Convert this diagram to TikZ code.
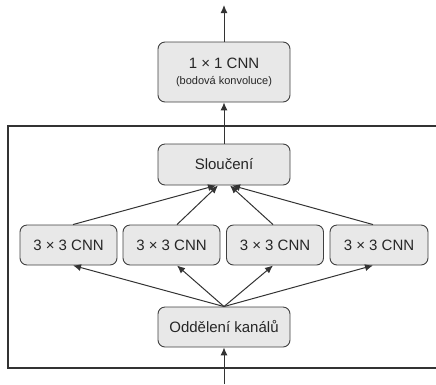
\documentclass[tikz,border=0pt]{standalone}
\usepackage{fontspec}
\setmainfont{Liberation Sans}
\usetikzlibrary{arrows.meta}
\begin{document}
\begin{tikzpicture}[x=1pt,y=-1pt,
  box/.style={draw=black!75, fill=black!9, rounded corners=7pt, line width=0.9pt, inner sep=0pt, align=center, text=black!85},
  arr/.style={draw=black!80, line width=1pt, -{Latex[length=8pt,width=7pt]}},
  font=\fontsize{15}{18}\selectfont]
\useasboundingbox (0,0) rectangle (436,384);
\draw[line width=1.1pt, draw=black!80] (8,126) rectangle (445,368);
\node[box, minimum width=132pt, minimum height=60pt] (top) at (224,72) {1 × 1 CNN\\[-2pt]{\fontsize{11}{13}\selectfont (bodová konvoluce)}};
\node[box, minimum width=132pt, minimum height=41pt] (merge) at (224,164.5) {Sloučení};
\node[box, minimum width=97pt, minimum height=40pt] (c1) at (68.5,245) {3 × 3 CNN};
\node[box, minimum width=97pt, minimum height=40pt] (c2) at (171.5,245) {3 × 3 CNN};
\node[box, minimum width=97pt, minimum height=40pt] (c3) at (275,245) {3 × 3 CNN};
\node[box, minimum width=98pt, minimum height=40pt] (c4) at (379,245) {3 × 3 CNN};
\node[box, minimum width=132pt, minimum height=40pt] (split) at (224,327) {Oddělení kanálů};
\coordinate (outtop) at (224,5);
\coordinate (inbot) at (224,384);
\draw[arr] (top.north) -- (outtop);
\draw[arr] (merge.north) -- (top.south);
\draw[arr] (inbot) -- (split.south);
\draw[arr] (split.north) -- (c1.south -| 73,0);
\draw[arr] (split.north) -- (c2.south -| 177,0);
\draw[arr] (split.north) -- (c3.south -| 273,0);
\draw[arr] (split.north) -- (c4.south -| 373,0);
\draw[arr] (c1.north -| 73,0) -- (merge.south -| 216,0);
\draw[arr] (c2.north -| 177,0) -- (merge.south -| 218,0);
\draw[arr] (c3.north -| 273,0) -- (merge.south -| 230,0);
\draw[arr] (c4.north -| 373,0) -- (merge.south -| 232,0);
\end{tikzpicture}
\end{document}
